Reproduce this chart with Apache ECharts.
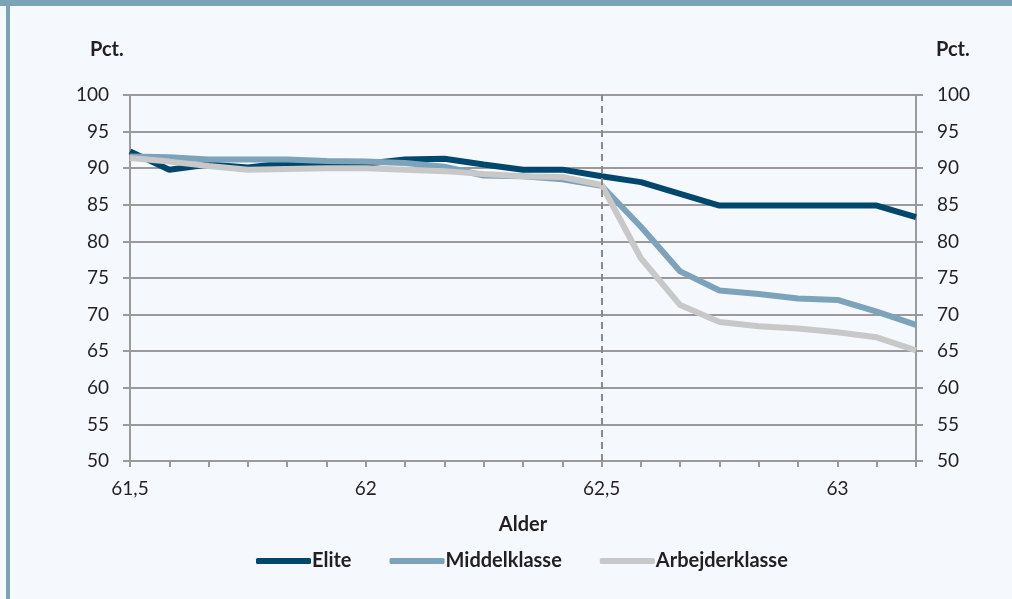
<!DOCTYPE html>
<html>
<head>
<meta charset="utf-8">
<script src="https://cdn.jsdelivr.net/npm/echarts@6/dist/echarts.min.js"></script>
<style>
  html, body { margin: 0; padding: 0; background: #f5f9fd; }
  #chart { width: 1012px; height: 599px; }
</style>
</head>
<body>
<div id="chart"></div>
<script>
// alder pr. måned fra 61,5 til 63 + 2 mdr
const alderLabels = ['61,5', '', '', '', '', '', '62', '', '', '', '', '', '62,5', '', '', '', '', '', '63', '', ''];
const elite = [92.3, 89.8, 90.5, 90.1, 90.7, 90.7, 90.6, 91.2, 91.3, 90.5, 89.8, 89.8, 88.9, 88.1, 86.5, 84.9, 84.9, 84.9, 84.9, 84.9, 83.3];
const middelklasse = [91.6, 91.5, 91.2, 91.2, 91.2, 91.0, 90.9, 90.7, 90.2, 89.0, 88.9, 88.5, 87.6, 82.0, 75.9, 73.3, 72.8, 72.2, 72.0, 70.4, 68.6];
const arbejderklasse = [91.4, 90.9, 90.3, 89.8, 89.9, 90.0, 90.0, 89.8, 89.6, 89.2, 88.9, 88.8, 87.7, 77.7, 71.3, 69.0, 68.4, 68.1, 67.6, 66.9, 65.1];
const yTicks = { min: 50, max: 100, step: 5 };

const chart = echarts.init(document.getElementById('chart'));
const font = 'Lato, "Open Sans", sans-serif';
const txt = '#231f20';
const gridGrey = '#9a9a9a';

const yAxisBase = {
  type: 'value',
  min: yTicks.min,
  max: yTicks.max,
  interval: yTicks.step,
  axisLine: { show: true, lineStyle: { color: gridGrey, width: 2 } },
  axisTick: { show: true, length: 7, lineStyle: { color: gridGrey, width: 2 } },
  axisLabel: { color: txt, fontSize: 19, fontFamily: font, margin: 21 }
};

const option = {
  backgroundColor: '#f5f9fd',
  animation: false,
  graphic: [
    { type: 'rect', left: 0, top: 0, shape: { width: 1012, height: 6 }, style: { fill: '#7ba3b8' } },
    { type: 'rect', left: 6, top: 0, shape: { width: 4, height: 599 }, style: { fill: '#7ba3b8' } },
    { type: 'text', left: 90, top: 40, style: { text: 'Pct.', fill: txt, font: 'bold 20px ' + font } },
    { type: 'text', left: 936, top: 40, style: { text: 'Pct.', fill: txt, font: 'bold 20px ' + font } }
  ],
  grid: { left: 130, right: 96, top: 95, bottom: 138 },
  legend: {
    left: 251,
    top: 546,
    icon: 'roundRect',
    itemWidth: 55,
    itemHeight: 6,
    itemGap: 38,
    textStyle: { color: txt, fontSize: 20, fontWeight: 'bold', fontFamily: font, padding: [0, 0, 0, -4] },
    data: ['Elite', 'Middelklasse', 'Arbejderklasse']
  },
  xAxis: {
    type: 'category',
    boundaryGap: false,
    data: alderLabels,
    name: 'Alder',
    nameLocation: 'middle',
    nameGap: 54,
    nameTextStyle: { color: txt, fontSize: 20, fontWeight: 'bold', fontFamily: font },
    axisLine: { lineStyle: { color: gridGrey, width: 2 } },
    axisTick: { show: true, interval: 0, length: 6, lineStyle: { color: gridGrey, width: 2 } },
    axisLabel: { interval: 0, color: txt, fontSize: 19, fontFamily: font, margin: 18 },
    splitLine: { show: false }
  },
  yAxis: [
    Object.assign({}, yAxisBase, {
      position: 'left',
      splitLine: { show: true, lineStyle: { color: gridGrey, width: 2 } }
    }),
    Object.assign({}, yAxisBase, {
      position: 'right',
      splitLine: { show: false }
    })
  ],
  series: [
    {
      name: 'Elite',
      type: 'line',
      data: elite,
      showSymbol: false,
      color: '#00476e',
      lineStyle: { width: 6, color: '#00476e' },
      markLine: {
        silent: true,
        symbol: 'none',
        label: { show: false },
        lineStyle: { color: '#8a8a8a', type: [7, 5], width: 2 },
        data: [{ xAxis: 12 }]
      }
    },
    {
      name: 'Middelklasse',
      type: 'line',
      data: middelklasse,
      showSymbol: false,
      color: '#7ca3ba',
      lineStyle: { width: 6, color: '#7ca3ba' }
    },
    {
      name: 'Arbejderklasse',
      type: 'line',
      data: arbejderklasse,
      showSymbol: false,
      color: '#c8c8c8',
      lineStyle: { width: 6, color: '#c8c8c8' }
    }
  ]
};
chart.setOption(option);
</script>
</body>
</html>
